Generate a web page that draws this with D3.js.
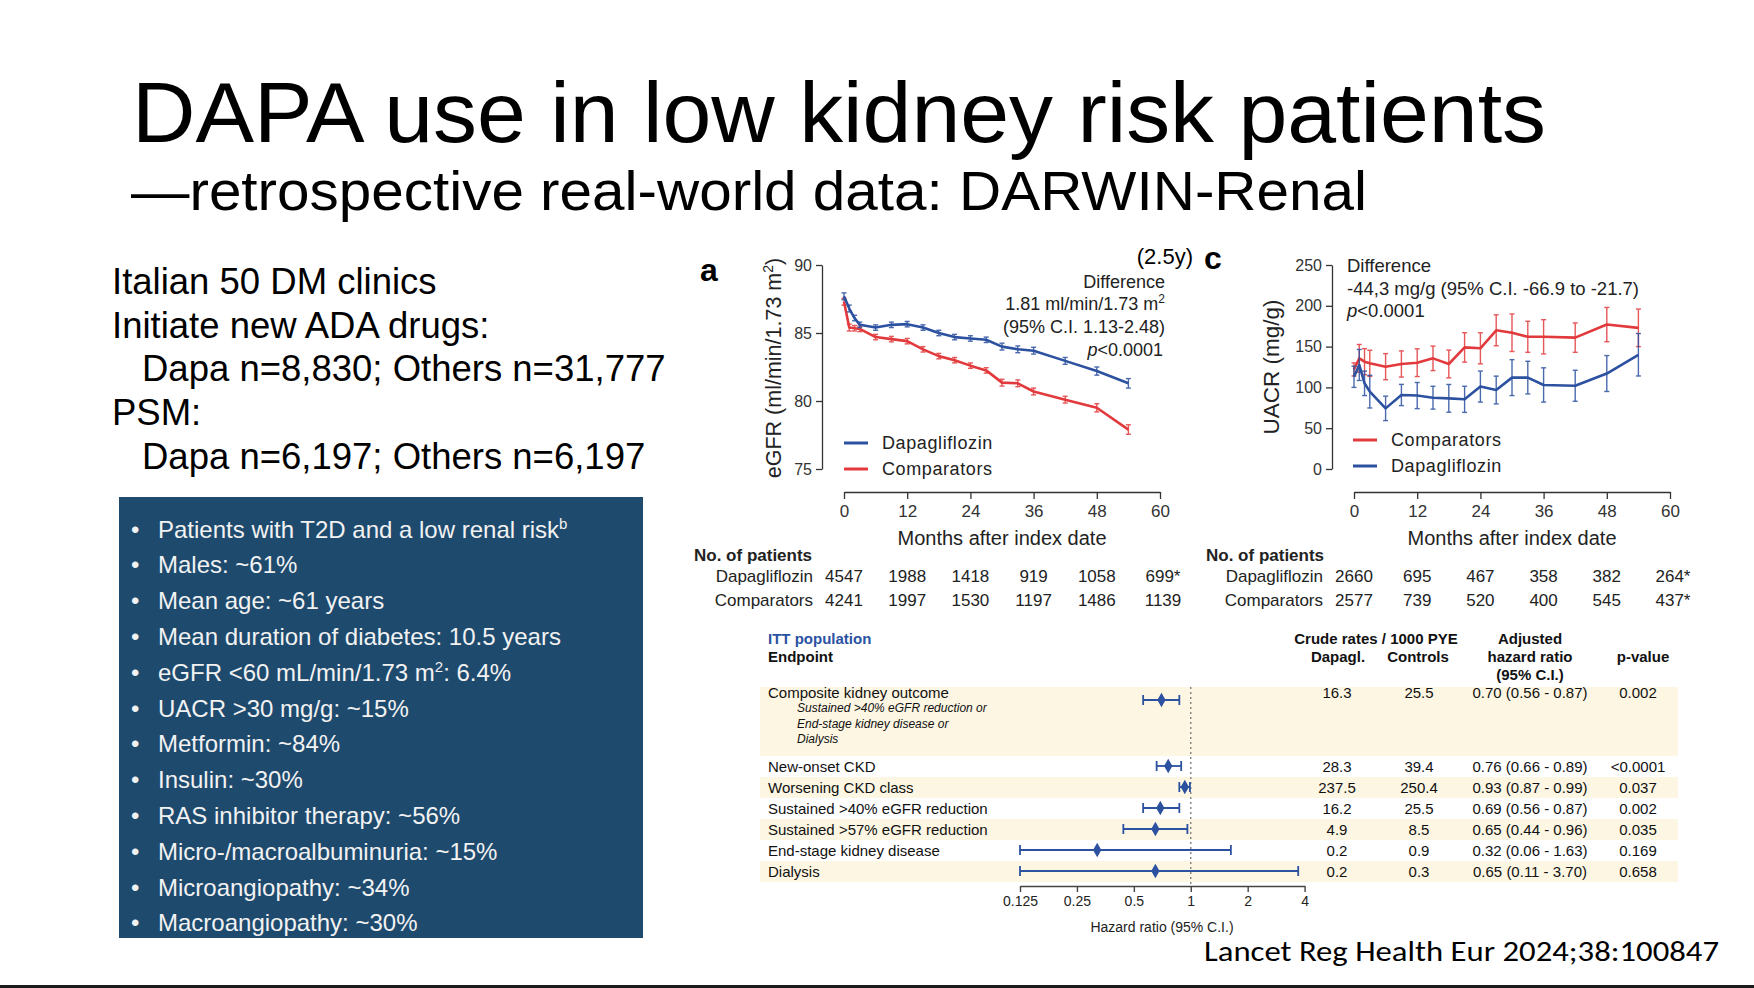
<!DOCTYPE html>
<html>
  <head>
    <meta charset="utf-8">
    <style>
      body { margin: 0; background: #ffffff; }
      svg { display: block; font-family: "Liberation Sans", Arial, sans-serif; }
    </style>
  </head>
  <body>
    <div id="slide"><svg></svg></div>
    <script src="https://d3js.org/d3.v7.min.js"></script>
    <script>
      // ---- data ----
      var leftLines = ["Italian 50 DM clinics", "Initiate new ADA drugs:", "Dapa n=8,830; Others n=31,777", "PSM:", "Dapa n=6,197; Others n=6,197"];
      var leftIndent = [false, false, true, false, true];

      var boxItems = ["Patients with T2D and a low renal risk", "Males: ~61%", "Mean age: ~61 years",
        "Mean duration of diabetes: 10.5 years", "eGFR <60 mL/min/1.73 m", "UACR >30 mg/g: ~15%",
        "Metformin: ~84%", "Insulin: ~30%", "RAS inhibitor therapy: ~56%",
        "Micro-/macroalbuminuria: ~15%", "Microangiopathy: ~34%", "Macroangiopathy: ~30%"];
      var boxSup = ["b", "", "", "", "2", "", "", "", "", "", "", ""];
      var boxTail = ["", "", "", "", ": 6.4%", "", "", "", "", "", "", ""];

      var months = [0, 1, 2, 3, 6, 9, 12, 15, 18, 21, 24, 27, 30, 33, 36, 42, 48, 54];
      var monthTicks = [0, 12, 24, 36, 48, 60];

      var egfrDapa = [87.7, 86.8, 86.1, 85.6, 85.4, 85.6, 85.65, 85.4, 85.0, 84.7, 84.6, 84.5, 84.0, 83.8, 83.7, 82.95, 82.2, 81.3];
      var egfrDapaErr = [0.25, 0.25, 0.2, 0.2, 0.2, 0.2, 0.2, 0.2, 0.2, 0.2, 0.2, 0.2, 0.25, 0.25, 0.25, 0.25, 0.3, 0.35];
      var egfrComp = [87.3, 85.4, 85.35, 85.3, 84.7, 84.55, 84.4, 83.8, 83.3, 83.0, 82.6, 82.25, 81.35, 81.3, 80.7, 80.1, 79.5, 77.9];
      var egfrCompErr = [0.25, 0.25, 0.2, 0.2, 0.2, 0.2, 0.2, 0.2, 0.2, 0.2, 0.2, 0.2, 0.25, 0.25, 0.25, 0.25, 0.3, 0.35];
      var egfrTicks = [75, 80, 85, 90];

      var uacrComp = [122, 135.6, 131.5, 129.5, 125.4, 128.7, 130.3, 135.6, 128.7, 149, 147.9, 170, 167, 162, 162, 161, 177, 173];
      var uacrCompErr = [8, 17, 16, 16, 16, 16, 17, 15, 17, 18, 19, 19, 23, 19, 21, 18, 21, 23];
      var uacrDapa = [113, 127.5, 105, 94.8, 74.3, 90.7, 90, 87.4, 86.6, 85.4, 101, 96.8, 112, 112, 103, 102, 117, 140];
      var uacrDapaErr = [13, 19, 15, 20, 15, 13, 16, 14, 17, 16, 19, 17, 22, 20, 21, 19, 22, 26];
      var uacrTicks = [0, 50, 100, 150, 200, 250];

      var patientsA_dapa = ["4547", "1988", "1418", "919", "1058", "699*"];
      var patientsA_comp = ["4241", "1997", "1530", "1197", "1486", "1139"];
      var patientsC_dapa = ["2660", "695", "467", "358", "382", "264*"];
      var patientsC_comp = ["2577", "739", "520", "400", "545", "437*"];

      var endpoints = ["Composite kidney outcome", "New-onset CKD", "Worsening CKD class", "Sustained >40% eGFR reduction",
        "Sustained >57% eGFR reduction", "End-stage kidney disease", "Dialysis"];
      var compositeNote = ["Sustained >40% eGFR reduction or", "End-stage kidney disease or", "Dialysis"];
      var hr = [0.70, 0.76, 0.93, 0.69, 0.65, 0.32, 0.65];
      var hrLo = [0.56, 0.66, 0.87, 0.56, 0.44, 0.06, 0.11];
      var hrHi = [0.87, 0.89, 0.99, 0.87, 0.96, 1.63, 3.70];
      var rateDapa = ["16.3", "28.3", "237.5", "16.2", "4.9", "0.2", "0.2"];
      var rateCtrl = ["25.5", "39.4", "250.4", "25.5", "8.5", "0.9", "0.3"];
      var pValues = ["0.002", "<0.0001", "0.037", "0.002", "0.035", "0.169", "0.658"];
      var hrTicks = [0.125, 0.25, 0.5, 1, 2, 4];

      var blue = "#2c51a0", red = "#e23a3c";

      var svg = d3.select("#slide svg").attr("width", 1754).attr("height", 988);
      svg.append("rect").attr("width", 1754).attr("height", 988).attr("fill", "#fff");

      // ---- title ----
      svg.append("text").attr("x", 132).attr("y", 142).attr("font-size", 86)
        .attr("textLength", 1414).attr("lengthAdjust", "spacingAndGlyphs")
        .text("DAPA use in low kidney risk patients");
      svg.append("text").attr("x", 131).attr("y", 210).attr("font-size", 56)
        .attr("textLength", 1236).attr("lengthAdjust", "spacingAndGlyphs")
        .text("\u2014retrospective real-world data: DARWIN-Renal");

      // ---- left text ----
      svg.selectAll(".left").data(leftLines).enter().append("text")
        .attr("class", "left")
        .attr("x", function(d, i) { return leftIndent[i] ? 142 : 112; })
        .attr("y", function(d, i) { return 294 + i * 43.7; })
        .attr("font-size", 36.5)
        .text(function(d) { return d; });

      // ---- blue box ----
      svg.append("rect").attr("x", 119).attr("y", 497).attr("width", 524).attr("height", 441).attr("fill", "#1e4a6e");
      var items = svg.selectAll(".item").data(boxItems).enter().append("g").attr("class", "item")
        .attr("transform", function(d, i) { return "translate(0," + (537.5 + i * 35.8) + ")"; });
      items.append("text").attr("x", 131).attr("font-size", 24).attr("fill", "#f2f2f2").text("\u2022");
      var it = items.append("text").attr("x", 158).attr("font-size", 24).attr("fill", "#f2f2f2");
      it.append("tspan").text(function(d) { return d; });
      it.append("tspan").attr("dy", -9).attr("font-size", 15).text(function(d, i) { return boxSup[i]; });
      it.append("tspan").attr("dy", 9).text(function(d, i) { return boxTail[i]; });

      // ---- line chart helper ----
      function lineChart(opts) {
        var x = d3.scaleLinear().domain([0, 60]).range([opts.x0, opts.x0 + 316]);
        var y = d3.scaleLinear().domain(opts.yDomain).range([469, 265]);
        var g = svg.append("g");

        g.append("g").attr("transform", "translate(" + opts.yAxisX + ",0)")
          .call(d3.axisLeft(y).tickValues(opts.yTicks).tickSize(6).tickSizeOuter(0).tickPadding(4))
          .call(function(a) {
            a.select(".domain").attr("stroke", "#333").attr("stroke-width", 1.3);
            a.selectAll(".tick line").attr("stroke", "#333").attr("stroke-width", 1.3);
            a.selectAll("text").attr("font-size", 16).attr("fill", "#333").attr("font-family", "Liberation Sans, Arial");
          });
        g.append("g").attr("transform", "translate(0,492)")
          .call(d3.axisBottom(x).tickValues(monthTicks).tickSize(7).tickSizeOuter(0).tickPadding(6))
          .call(function(a) {
            a.select(".domain").attr("stroke", "#333").attr("stroke-width", 1.5);
            a.selectAll(".tick line").attr("stroke", "#333").attr("stroke-width", 1.3);
            a.selectAll("text").attr("font-size", 17).attr("fill", "#333").attr("font-family", "Liberation Sans, Arial");
          });

        g.append("text").attr("x", opts.x0 + 158).attr("y", 545).attr("text-anchor", "middle")
          .attr("font-size", 20).attr("fill", "#222").text("Months after index date");

        var line = d3.line().x(function(d) { return x(d.m); }).y(function(d) { return y(d.v); });
        opts.series.forEach(function(s) {
          var pts = months.map(function(m, i) { return { m: m, v: s.values[i], e: s.err[i] }; });
          var eb = g.append("g").attr("stroke", s.color).attr("stroke-width", 1.4).attr("opacity", 0.85);
          eb.selectAll(".eb").data(pts).enter().append("line")
            .attr("x1", function(d) { return x(d.m); }).attr("x2", function(d) { return x(d.m); })
            .attr("y1", function(d) { return y(d.v - d.e); }).attr("y2", function(d) { return y(d.v + d.e); });
          eb.selectAll(".capHi").data(pts).enter().append("line")
            .attr("x1", function(d) { return x(d.m) - 2.5; }).attr("x2", function(d) { return x(d.m) + 2.5; })
            .attr("y1", function(d) { return y(d.v + d.e); }).attr("y2", function(d) { return y(d.v + d.e); });
          eb.selectAll(".capLo").data(pts).enter().append("line")
            .attr("x1", function(d) { return x(d.m) - 2.5; }).attr("x2", function(d) { return x(d.m) + 2.5; })
            .attr("y1", function(d) { return y(d.v - d.e); }).attr("y2", function(d) { return y(d.v - d.e); });
          g.append("path").datum(pts).attr("d", line).attr("fill", "none")
            .attr("stroke", s.color).attr("stroke-width", 2.6).attr("stroke-linejoin", "round");
        });

        opts.legend.forEach(function(l, i) {
          var ly = opts.legendY + i * 26;
          g.append("line").attr("x1", opts.legendX).attr("x2", opts.legendX + 24)
            .attr("y1", ly).attr("y2", ly).attr("stroke", l.color).attr("stroke-width", 3);
          g.append("text").attr("x", opts.legendX + 38).attr("y", ly + 6).attr("font-size", 18)
            .attr("fill", "#222").attr("letter-spacing", 0.6).text(l.name);
        });
        return { x: x, g: g };
      }

      // ---- chart a ----
      var ca = lineChart({
        x0: 844, yAxisX: 822, yDomain: [75, 90], yTicks: egfrTicks,
        series: [
          { values: egfrComp, err: egfrCompErr, color: red },
          { values: egfrDapa, err: egfrDapaErr, color: blue }
        ],
        legend: [{ name: "Dapagliflozin", color: blue }, { name: "Comparators", color: red }],
        legendX: 844, legendY: 443
      });
      svg.append("text").attr("x", 700).attr("y", 281).attr("font-size", 32).attr("font-weight", "bold").text("a");
      var yt = svg.append("text").attr("transform", "translate(781,368) rotate(-90)")
        .attr("text-anchor", "middle").attr("font-size", 21.5).attr("fill", "#222");
      yt.append("tspan").text("eGFR (ml/min/1.73 m");
      yt.append("tspan").attr("dy", -8).attr("font-size", 14).text("2");
      yt.append("tspan").attr("dy", 8).text(")");
      svg.append("text").attr("x", 1193).attr("y", 264).attr("text-anchor", "end").attr("font-size", 22).text("(2.5y)");
      var annA = svg.append("g").attr("font-size", 18).attr("fill", "#222").attr("text-anchor", "end");
      annA.append("text").attr("x", 1165).attr("y", 288).text("Difference");
      var l2 = annA.append("text").attr("x", 1165).attr("y", 310);
      l2.append("tspan").text("1.81 ml/min/1.73 m");
      l2.append("tspan").attr("dy", -7).attr("font-size", 12).text("2");
      annA.append("text").attr("x", 1165).attr("y", 333).text("(95% C.I. 1.13-2.48)");
      var p1 = annA.append("text").attr("x", 1163).attr("y", 356);
      p1.append("tspan").attr("font-style", "italic").text("p");
      p1.append("tspan").text("<0.0001");

      // ---- chart c ----
      var cc = lineChart({
        x0: 1354, yAxisX: 1332, yDomain: [0, 250], yTicks: uacrTicks,
        series: [
          { values: uacrComp, err: uacrCompErr, color: red },
          { values: uacrDapa, err: uacrDapaErr, color: blue }
        ],
        legend: [{ name: "Comparators", color: red }, { name: "Dapagliflozin", color: blue }],
        legendX: 1353, legendY: 440
      });
      svg.append("text").attr("x", 1204).attr("y", 269).attr("font-size", 32).attr("font-weight", "bold").text("c");
      svg.append("text").attr("transform", "translate(1279,367) rotate(-90)")
        .attr("text-anchor", "middle").attr("font-size", 22.5).attr("fill", "#222").text("UACR (mg/g)");
      var annC = svg.append("g").attr("font-size", 18.5).attr("fill", "#222");
      annC.append("text").attr("x", 1347).attr("y", 272).text("Difference");
      annC.append("text").attr("x", 1347).attr("y", 295).text("-44,3 mg/g (95% C.I. -66.9 to -21.7)");
      var p2 = annC.append("text").attr("x", 1347).attr("y", 317);
      p2.append("tspan").attr("font-style", "italic").text("p");
      p2.append("tspan").text("<0.0001");

      // ---- number at risk tables ----
      function riskTable(labelX, x, dapa, comp) {
        var g = svg.append("g").attr("font-size", 17).attr("fill", "#222");
        g.append("text").attr("x", labelX).attr("y", 561).attr("font-weight", "bold").text("No. of patients");
        g.append("text").attr("x", x(0) - 31).attr("y", 582).attr("text-anchor", "end").text("Dapagliflozin");
        g.append("text").attr("x", x(0) - 31).attr("y", 606).attr("text-anchor", "end").text("Comparators");
        g.selectAll(".d").data(dapa).enter().append("text")
          .attr("x", function(d, i) { return x(monthTicks[i]) + (i === 5 ? 3 : 0); }).attr("y", 582)
          .attr("text-anchor", "middle").text(function(d) { return d; });
        g.selectAll(".c").data(comp).enter().append("text")
          .attr("x", function(d, i) { return x(monthTicks[i]) + (i === 5 ? 3 : 0); }).attr("y", 606)
          .attr("text-anchor", "middle").text(function(d) { return d; });
      }
      riskTable(694, ca.x, patientsA_dapa, patientsA_comp);
      riskTable(1206, cc.x, patientsC_dapa, patientsC_comp);

      // ---- forest plot ----
      var hx = d3.scaleLog().base(2).domain([0.125, 4]).range([1020, 1304.6]);
      var rowTop = [687], rowH = [69, 21, 21, 21, 21, 21, 21];
      for (var r = 1; r < endpoints.length; r++) rowTop.push(rowTop[r - 1] + rowH[r - 1]);
      var textY = endpoints.map(function(d, i) { return i === 0 ? 698 : rowTop[i] + 16; });
      var markY = endpoints.map(function(d, i) { return i === 0 ? 700 : rowTop[i] + 10; });

      var fg = svg.append("g");
      fg.selectAll(".band").data(endpoints).enter().append("rect")
        .attr("x", 760).attr("width", 918)
        .attr("y", function(d, i) { return rowTop[i]; })
        .attr("height", function(d, i) { return rowH[i]; })
        .attr("fill", function(d, i) { return i % 2 === 0 ? "#fcf6e3" : "#ffffff"; });

      fg.append("line").attr("x1", hx(1)).attr("x2", hx(1)).attr("y1", 687).attr("y2", 886)
        .attr("stroke", "#777").attr("stroke-width", 1.3).attr("stroke-dasharray", "2,3");

      fg.append("g").attr("transform", "translate(0,886)")
        .call(d3.axisBottom(hx).tickValues(hrTicks).tickFormat(function(d) { return String(d); }).tickSize(6).tickSizeOuter(0).tickPadding(4))
        .call(function(a) {
          a.select(".domain").attr("stroke", "#444").attr("stroke-width", 1.4);
          a.selectAll(".tick line").attr("stroke", "#444").attr("stroke-width", 1.4);
          a.selectAll("text").attr("font-size", 14).attr("fill", "#222").attr("font-family", "Liberation Sans, Arial");
        });
      fg.append("text").attr("x", 1162).attr("y", 932).attr("text-anchor", "middle").attr("font-size", 14)
        .attr("fill", "#222").text("Hazard ratio (95% C.I.)");

      var ci = fg.append("g").attr("stroke", blue).attr("stroke-width", 1.8);
      endpoints.forEach(function(d, i) {
        var lo = hx(Math.max(hrLo[i], 0.125)), hi = hx(hrHi[i]), yy = markY[i];
        ci.append("line").attr("x1", lo).attr("x2", hi).attr("y1", yy).attr("y2", yy);
        ci.append("line").attr("x1", lo).attr("x2", lo).attr("y1", yy - 5).attr("y2", yy + 5);
        ci.append("line").attr("x1", hi).attr("x2", hi).attr("y1", yy - 5).attr("y2", yy + 5);
      });
      fg.selectAll(".mark").data(hr).enter().append("path")
        .attr("d", d3.symbol(d3.symbolDiamond).size(60))
        .attr("transform", function(d, i) { return "translate(" + hx(d) + "," + markY[i] + ")"; })
        .attr("fill", blue);

      var ft = fg.append("g").attr("font-size", 15).attr("fill", "#111");
      ft.append("text").attr("x", 768).attr("y", 644).attr("font-weight", "bold").attr("fill", "#2a52a3").text("ITT population");
      ft.append("text").attr("x", 768).attr("y", 662).attr("font-weight", "bold").text("Endpoint");
      ft.append("text").attr("x", 1376).attr("y", 644).attr("font-weight", "bold").attr("text-anchor", "middle").text("Crude rates / 1000 PYE");
      ft.append("text").attr("x", 1338).attr("y", 662).attr("font-weight", "bold").attr("text-anchor", "middle").text("Dapagl.");
      ft.append("text").attr("x", 1418).attr("y", 662).attr("font-weight", "bold").attr("text-anchor", "middle").text("Controls");
      ft.append("text").attr("x", 1530).attr("y", 644).attr("font-weight", "bold").attr("text-anchor", "middle").text("Adjusted");
      ft.append("text").attr("x", 1530).attr("y", 662).attr("font-weight", "bold").attr("text-anchor", "middle").text("hazard ratio");
      ft.append("text").attr("x", 1530).attr("y", 680).attr("font-weight", "bold").attr("text-anchor", "middle").text("(95% C.I.)");
      ft.append("text").attr("x", 1643).attr("y", 662).attr("font-weight", "bold").attr("text-anchor", "middle").text("p-value");

      ft.selectAll(".ep").data(endpoints).enter().append("text")
        .attr("x", 768).attr("y", function(d, i) { return textY[i]; }).text(function(d) { return d; });
      ft.selectAll(".note").data(compositeNote).enter().append("text")
        .attr("x", 797).attr("y", function(d, i) { return 712 + i * 15.5; })
        .attr("font-size", 12).attr("font-style", "italic").text(function(d) { return d; });

      function column(vals, cx) {
        ft.selectAll(null).data(vals).enter().append("text")
          .attr("x", cx).attr("y", function(d, i) { return textY[i]; })
          .attr("text-anchor", "middle").text(function(d) { return d; });
      }
      column(rateDapa, 1337);
      column(rateCtrl, 1419);
      column(hr.map(function(d, i) { return d.toFixed(2) + " (" + hrLo[i].toFixed(2) + " - " + hrHi[i].toFixed(2) + ")"; }), 1530);
      column(pValues, 1638);

      // ---- citation + footer rule ----
      svg.append("text").attr("x", 1204).attr("y", 961).attr("font-size", 28)
        .attr("font-family", "Carlito, 'Open Sans', 'Liberation Sans', sans-serif")
        .attr("textLength", 515).attr("lengthAdjust", "spacingAndGlyphs")
        .text("Lancet Reg Health Eur 2024;38:100847");
      svg.append("rect").attr("x", 0).attr("y", 985).attr("width", 1754).attr("height", 3).attr("fill", "#1b1b1b");
    </script>
  </body>
</html>
